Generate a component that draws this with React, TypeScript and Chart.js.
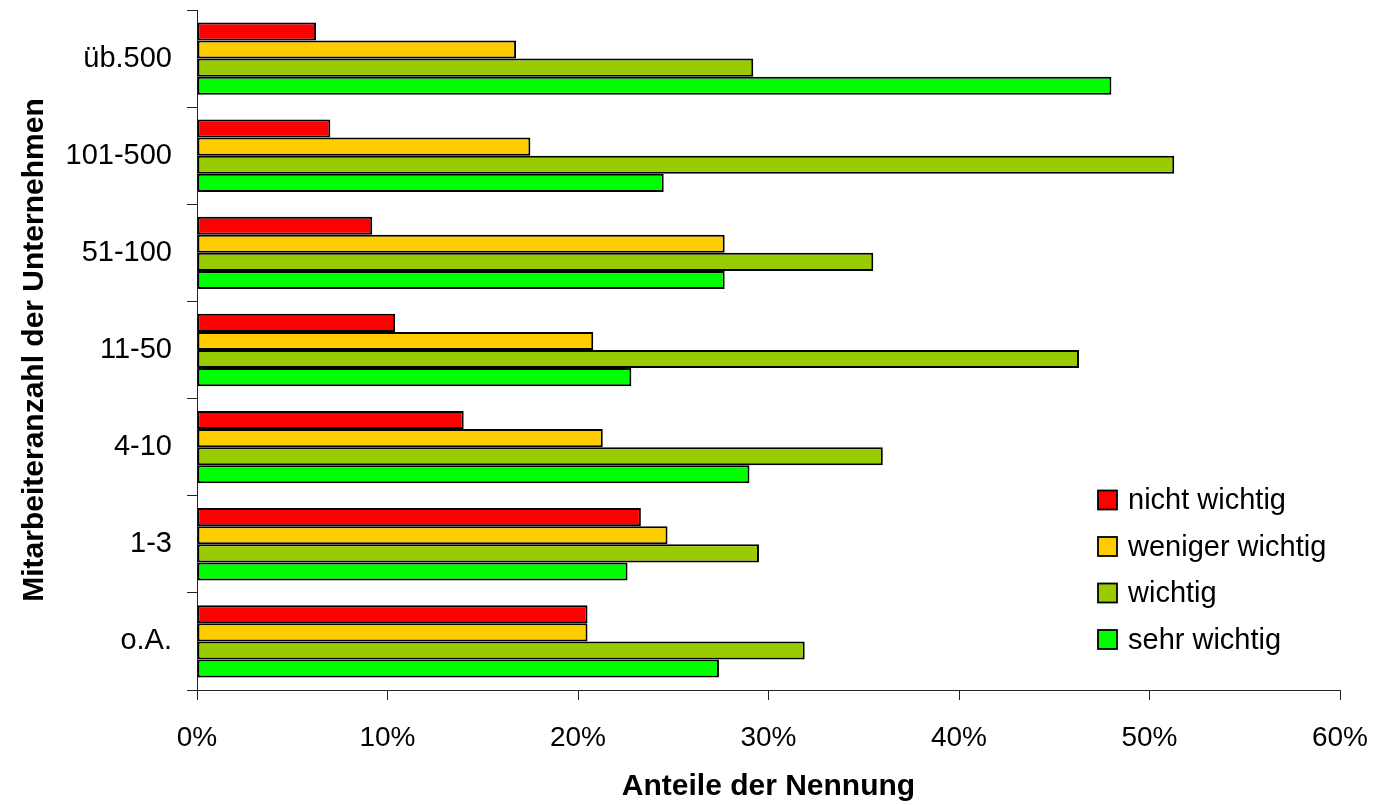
import React, { useEffect, useRef } from 'react';
import { Chart, registerables } from 'chart.js';

Chart.register(...registerables);

const categories = ['üb.500', '101-500', '51-100', '11-50', '4-10', '1-3', 'o.A.'];
const seriesNames = ['nicht wichtig', 'weniger wichtig', 'wichtig', 'sehr wichtig'];
const nichtWichtig = [6.25, 7.0, 9.2, 10.4, 14.0, 23.3, 20.5];
const wenigerWichtig = [16.75, 17.5, 27.7, 20.8, 21.3, 24.7, 20.5];
const wichtig = [29.2, 51.3, 35.5, 46.3, 36.0, 29.5, 31.9];
const sehrWichtig = [48.0, 24.5, 27.7, 22.8, 29.0, 22.6, 27.4];
const xTickValues = [0, 10, 20, 30, 40, 50, 60];
const xTitle = 'Anteile der Nennung';
const yTitle = 'Mitarbeiteranzahl der Unternehmen';

const seriesColors = ['#FF0000', '#FFCC00', '#99CC00', '#00FF00'];
const FAMILY = '"Liberation Sans", Arial, Helvetica, sans-serif';

const insideLegend = {
  id: 'insideLegend',
  afterDraw(chart: any) {
    const { ctx } = chart;
    const x0 = 1098;
    const y0 = 500;
    const spacing = 46.5;
    const box = 19;
    const gap = 11;
    ctx.save();
    ctx.font = `29px ${FAMILY}`;
    ctx.textBaseline = 'middle';
    ctx.textAlign = 'left';
    chart.data.datasets.forEach((ds: any, i: number) => {
      const cy = y0 + i * spacing;
      ctx.fillStyle = ds.backgroundColor;
      ctx.fillRect(x0, cy - box / 2, box, box);
      ctx.strokeStyle = '#000';
      ctx.lineWidth = 1.8;
      ctx.strokeRect(x0, cy - box / 2, box, box);
      ctx.fillStyle = '#000';
      ctx.fillText(ds.label, x0 + box + gap, cy + 1);
    });
    ctx.restore();
  },
};

export default function App() {
  const canvasRef = useRef<HTMLCanvasElement | null>(null);

  useEffect(() => {
    if (!canvasRef.current) return;
    const values = [nichtWichtig, wenigerWichtig, wichtig, sehrWichtig];
    const chart = new Chart(canvasRef.current, {
      type: 'bar',
      data: {
        labels: categories,
        datasets: seriesNames.map((name, i) => ({
          label: name,
          data: values[i],
          backgroundColor: seriesColors[i],
          borderColor: '#000',
          borderWidth: 2,
          borderSkipped: false,
          categoryPercentage: 0.745,
          barPercentage: 1.0,
        })),
      },
      options: {
        indexAxis: 'y',
        animation: false,
        responsive: true,
        maintainAspectRatio: false,
        layout: { padding: { top: 10, right: 36, left: 0, bottom: 0 } },
        plugins: {
          legend: { display: false },
          tooltip: { enabled: false },
        },
        scales: {
          x: {
            type: 'linear',
            min: 0,
            max: 60,
            afterBuildTicks: (s: any) => {
              s.ticks = xTickValues.map((v) => ({ value: v }));
            },
            ticks: {
              callback: (v: any) => `${v}%`,
              font: { size: 28, family: FAMILY },
              color: '#000',
              padding: 21,
              maxRotation: 0,
            },
            grid: { drawOnChartArea: false, drawTicks: true, tickLength: 10, color: '#222', lineWidth: 1 },
            border: { display: true, color: '#222', width: 1 },
            title: {
              display: true,
              text: xTitle,
              font: { size: 30, weight: 'bold', family: FAMILY },
              color: '#000',
              padding: { top: 0, bottom: 0 },
            },
            afterFit: (s: any) => {
              s.height = 115;
              s.paddingLeft = 0;
              s.paddingRight = 0;
              s.paddingTop = 0;
              s.paddingBottom = 0;
            },
          },
          y: {
            type: 'category',
            grid: { offset: true, drawOnChartArea: false, drawTicks: true, tickLength: 10, color: '#222', lineWidth: 1 },
            border: { display: true, color: '#222', width: 1 },
            ticks: {
              font: { size: 29, family: FAMILY },
              color: '#000',
              padding: 15,
            },
            title: {
              display: true,
              text: yTitle,
              font: { size: 30, weight: 'bold', family: FAMILY },
              color: '#000',
              padding: { top: 17, bottom: 0 },
            },
            afterFit: (s: any) => {
              s.width = 197;
              s.paddingLeft = 0;
              s.paddingRight = 0;
              s.paddingTop = 0;
              s.paddingBottom = 0;
            },
          },
        },
      } as any,
      plugins: [insideLegend],
    });
    return () => chart.destroy();
  }, []);

  return (
    <div style={{ position: 'absolute', left: 0, top: 0, width: 1376, height: 805, background: '#fff' }}>
      <canvas ref={canvasRef} />
    </div>
  );
}
